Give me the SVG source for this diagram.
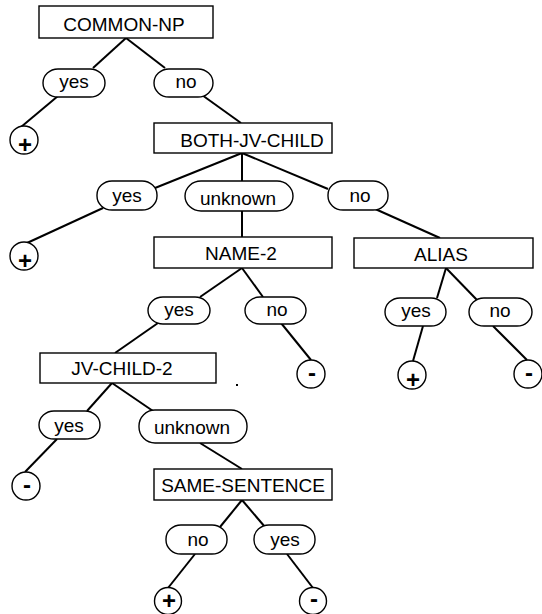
<svg xmlns="http://www.w3.org/2000/svg" width="542" height="614" viewBox="0 0 542 614">
<style>
.box{fill:#fff;stroke:#000;stroke-width:1.4}
.lab{fill:#fff;stroke:#000;stroke-width:1.4}
.leaf{fill:#fff;stroke:#000;stroke-width:1.4}
text{font-family:"Liberation Sans",Arial,sans-serif;font-size:19px;fill:#000;text-anchor:middle}
.sym{font-size:24px;font-weight:bold}
#connectors line{stroke:#000;stroke-width:2}
</style>
<rect width="542" height="614" fill="#fff"/>
<g id="connectors">
<line x1="126" y1="38" x2="93" y2="68"/>
<line x1="126" y1="38" x2="165" y2="68"/>
<line x1="58" y1="96" x2="21" y2="127"/>
<line x1="202" y1="95" x2="241" y2="123"/>
<line x1="242" y1="153" x2="155" y2="188"/>
<line x1="242" y1="153" x2="242" y2="181"/>
<line x1="242" y1="153" x2="328" y2="189"/>
<line x1="103" y1="208" x2="27" y2="243"/>
<line x1="242" y1="211" x2="242" y2="237"/>
<line x1="373" y1="208" x2="440" y2="238"/>
<line x1="242" y1="268" x2="200" y2="297"/>
<line x1="242" y1="268" x2="263" y2="297"/>
<line x1="158" y1="323" x2="115" y2="353"/>
<line x1="281" y1="323" x2="311" y2="360"/>
<line x1="446" y1="268" x2="437" y2="298"/>
<line x1="446" y1="268" x2="477" y2="300"/>
<line x1="423" y1="326" x2="413" y2="361"/>
<line x1="493" y1="326" x2="527" y2="360"/>
<line x1="112" y1="383" x2="87" y2="411"/>
<line x1="112" y1="383" x2="153" y2="411"/>
<line x1="57" y1="439" x2="25" y2="472"/>
<line x1="200" y1="443" x2="242" y2="469"/>
<line x1="242" y1="500" x2="220" y2="527"/>
<line x1="242" y1="500" x2="265" y2="527"/>
<line x1="195" y1="554" x2="168" y2="588"/>
<line x1="287" y1="554" x2="313" y2="588"/>
</g>
<g id="common-np"><rect class="box" x="39" y="6" width="174" height="32"/><text x="124" y="31">COMMON-NP</text></g>
<g id="e1-yes"><rect class="lab" x="43" y="69" width="62" height="28" rx="15" ry="14"/><text x="74" y="88">yes</text></g>
<g id="e1-no"><rect class="lab" x="154" y="69" width="59" height="28" rx="15" ry="14"/><text x="186" y="88">no</text></g>
<g id="leaf1"><circle class="leaf" cx="24" cy="140" r="14"/><text class="sym" x="25" y="153">+</text></g>
<g id="both-jv-child"><rect class="box" x="154" y="123" width="178" height="30"/><text x="252" y="147">BOTH-JV-CHILD</text></g>
<g id="e2-yes"><rect class="lab" x="97" y="181" width="60" height="29" rx="15" ry="14"/><text x="127" y="202">yes</text></g>
<g id="e2-unknown"><rect class="lab" x="185" y="181" width="108" height="30" rx="16" ry="15"/><text x="238" y="205">unknown</text></g>
<g id="e2-no"><rect class="lab" x="328" y="181" width="60" height="29" rx="15" ry="14"/><text x="360" y="202">no</text></g>
<g id="leaf2"><circle class="leaf" cx="24" cy="256" r="14"/><text class="sym" x="25" y="269">+</text></g>
<g id="name-2"><rect class="box" x="154" y="237" width="178" height="31"/><text x="241" y="260">NAME-2</text></g>
<g id="alias"><rect class="box" x="354" y="238" width="179" height="30"/><text x="441" y="261">ALIAS</text></g>
<g id="e3-yes"><rect class="lab" x="148" y="297" width="62" height="27" rx="15" ry="13.5"/><text x="179" y="316">yes</text></g>
<g id="e3-no"><rect class="lab" x="245" y="297" width="61" height="27" rx="15" ry="13.5"/><text x="277" y="316">no</text></g>
<g id="e4-yes"><rect class="lab" x="385" y="298" width="61" height="28" rx="15" ry="14"/><text x="416" y="317">yes</text></g>
<g id="e4-no"><rect class="lab" x="469" y="298" width="63" height="28" rx="15" ry="14"/><text x="500" y="317">no</text></g>
<g id="leaf3"><circle class="leaf" cx="311" cy="374" r="14"/><text class="sym" x="312" y="381">-</text></g>
<g id="leaf4"><circle class="leaf" cx="412" cy="375" r="14"/><text class="sym" x="413" y="388">+</text></g>
<g id="leaf5"><circle class="leaf" cx="528" cy="374" r="14"/><text class="sym" x="529" y="381">-</text></g>
<g id="jv-child-2"><rect class="box" x="40" y="353" width="176" height="30"/><text x="122" y="375">JV-CHILD-2</text></g>
<rect x="236" y="384" width="2" height="2" fill="#000"/>
<g id="e5-yes"><rect class="lab" x="39" y="411" width="61" height="28" rx="15" ry="14"/><text x="69" y="432">yes</text></g>
<g id="e5-unknown"><rect class="lab" x="139" y="410" width="108" height="33" rx="16" ry="16"/><text x="192" y="434">unknown</text></g>
<g id="leaf6"><circle class="leaf" cx="26" cy="486" r="14"/><text class="sym" x="27" y="493">-</text></g>
<g id="same-sentence"><rect class="box" x="154" y="469" width="178" height="31"/><text x="243" y="492">SAME-SENTENCE</text></g>
<g id="e6-no"><rect class="lab" x="166" y="525" width="61" height="29" rx="15" ry="14"/><text x="198" y="546">no</text></g>
<g id="e6-yes"><rect class="lab" x="254" y="525" width="61" height="29" rx="15" ry="14"/><text x="285" y="546">yes</text></g>
<g id="leaf7"><circle class="leaf" cx="168" cy="601" r="13.5"/><text class="sym" x="169" y="609">+</text></g>
<g id="leaf8"><circle class="leaf" cx="313" cy="601" r="13.5"/><text class="sym" x="314" y="607">-</text></g>
</svg>
